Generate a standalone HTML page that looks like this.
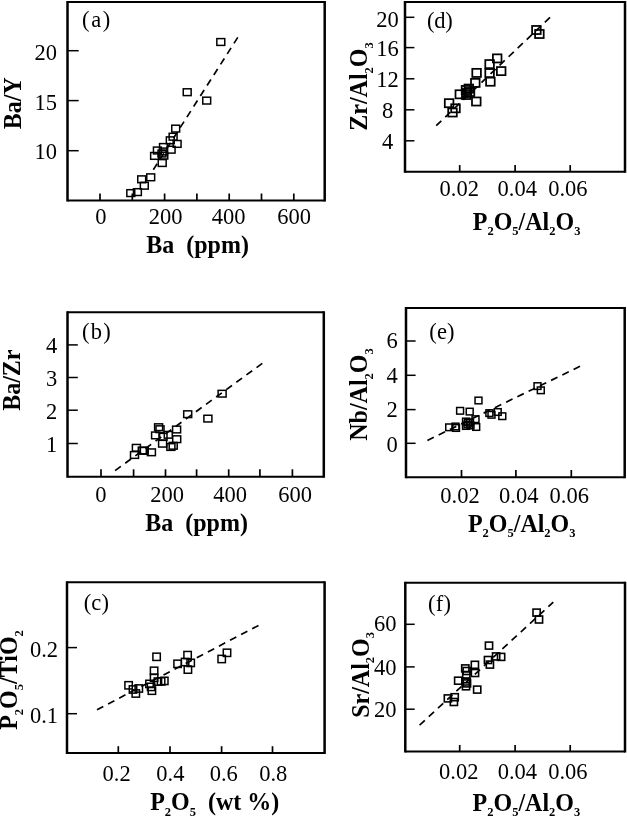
<!DOCTYPE html>
<html><head><meta charset="utf-8"><style>
html,body{margin:0;padding:0;background:#fff;}
svg{display:block;will-change:transform;}
text{font-family:"Liberation Serif",serif;fill:#000;}
.n{font-size:22.5px;}
.l{font-size:22.5px;}
.t{font-size:24px;font-weight:bold;}
</style></head><body>
<svg width="627" height="816" viewBox="0 0 627 816">
<path d="M67.5 2H324.7M67.5 200.5H324.7" stroke="#000" stroke-width="2.1" fill="none"/>
<path d="M67.5 0.95V201.55M324.7 0.95V201.55" stroke="#000" stroke-width="2.5" fill="none"/>
<line x1="67.5" y1="50.7" x2="78.7" y2="50.7" stroke="#000" stroke-width="1.5"/>
<text x="45.8" y="60.27" class="n" text-anchor="middle">20</text>
<line x1="67.5" y1="100.6" x2="78.7" y2="100.6" stroke="#000" stroke-width="1.5"/>
<text x="45.8" y="109.67" class="n" text-anchor="middle">15</text>
<line x1="67.5" y1="150.7" x2="78.7" y2="150.7" stroke="#000" stroke-width="1.5"/>
<text x="45.8" y="158.77" class="n" text-anchor="middle">10</text>
<line x1="100" y1="200.5" x2="100" y2="193.5" stroke="#000" stroke-width="1.7"/>
<text x="100.8" y="224.07" class="n" text-anchor="middle">0</text>
<line x1="132.3" y1="200.5" x2="132.3" y2="193.5" stroke="#000" stroke-width="1.7"/>
<line x1="164.6" y1="200.5" x2="164.6" y2="193.5" stroke="#000" stroke-width="1.7"/>
<text x="165.7" y="224.07" class="n" text-anchor="middle">200</text>
<line x1="196.9" y1="200.5" x2="196.9" y2="193.5" stroke="#000" stroke-width="1.7"/>
<line x1="229.2" y1="200.5" x2="229.2" y2="193.5" stroke="#000" stroke-width="1.7"/>
<text x="228.6" y="224.07" class="n" text-anchor="middle">400</text>
<line x1="261.5" y1="200.5" x2="261.5" y2="193.5" stroke="#000" stroke-width="1.7"/>
<line x1="293.8" y1="200.5" x2="293.8" y2="193.5" stroke="#000" stroke-width="1.7"/>
<text x="294" y="224.07" class="n" text-anchor="middle">600</text>
<text x="82.11" y="27.2" class="l" letter-spacing="1.6">(a)</text>
<line x1="153.3" y1="169.8" x2="238" y2="37" stroke="#000" stroke-width="1.7" stroke-dasharray="7.1 5.4"/>
<g fill="none" stroke="#000" stroke-width="1.5">
<rect x="126.85" y="189.7" width="7.9" height="6.8"/>
<rect x="133.45" y="188.7" width="7.9" height="6.8"/>
<rect x="140.35" y="182.3" width="7.9" height="6.8"/>
<rect x="137.75" y="175.9" width="7.9" height="6.8"/>
<rect x="146.75" y="173.9" width="7.9" height="6.8"/>
<rect x="158.25" y="159.6" width="7.9" height="6.8"/>
<rect x="150.65" y="152.5" width="7.9" height="6.8"/>
<rect x="159.85" y="152.2" width="7.9" height="6.8"/>
<rect x="153.45" y="147.1" width="7.9" height="6.8"/>
<rect x="159.55" y="143.6" width="7.9" height="6.8"/>
<rect x="159.55" y="148.1" width="7.9" height="6.8"/>
<rect x="158.05" y="150.1" width="7.9" height="6.8"/>
<rect x="167.15" y="146.3" width="7.9" height="6.8"/>
<rect x="173.15" y="140.5" width="7.9" height="6.8"/>
<rect x="166.35" y="136.9" width="7.9" height="6.8"/>
<rect x="169.15" y="133.3" width="7.9" height="6.8"/>
<rect x="171.75" y="125.2" width="7.9" height="6.8"/>
<rect x="183.25" y="88.8" width="7.9" height="6.8"/>
<rect x="202.75" y="97.2" width="7.9" height="6.8"/>
<rect x="216.85" y="38.6" width="7.9" height="6.8"/>
</g>
<text transform="translate(146.29 252.8) scale(1 1.06)" class="t">Ba&#160;&#160;(ppm)</text>
<text transform="translate(20.5 103.2) rotate(-90) scale(1 1.06)" text-anchor="middle" class="t">Ba/Y</text>
<path d="M67.5 312.3H323.8M67.5 476.8H323.8" stroke="#000" stroke-width="2.1" fill="none"/>
<path d="M67.5 311.25V477.85M323.8 311.25V477.85" stroke="#000" stroke-width="2.5" fill="none"/>
<line x1="67.5" y1="344.9" x2="77.8" y2="344.9" stroke="#000" stroke-width="1.5"/>
<text x="51.5" y="353.27" class="n" text-anchor="middle">4</text>
<line x1="67.5" y1="377.5" x2="77.8" y2="377.5" stroke="#000" stroke-width="1.5"/>
<text x="51.5" y="385.87" class="n" text-anchor="middle">3</text>
<line x1="67.5" y1="410.2" x2="77.8" y2="410.2" stroke="#000" stroke-width="1.5"/>
<text x="51.5" y="418.57" class="n" text-anchor="middle">2</text>
<line x1="67.5" y1="443.5" x2="77.8" y2="443.5" stroke="#000" stroke-width="1.5"/>
<text x="51.5" y="452.37" class="n" text-anchor="middle">1</text>
<line x1="101" y1="476.8" x2="101" y2="469.3" stroke="#000" stroke-width="1.7"/>
<text x="100.8" y="502.07" class="n" text-anchor="middle">0</text>
<line x1="133.6" y1="476.8" x2="133.6" y2="469.3" stroke="#000" stroke-width="1.7"/>
<line x1="165.5" y1="476.8" x2="165.5" y2="469.3" stroke="#000" stroke-width="1.7"/>
<text x="167.2" y="502.07" class="n" text-anchor="middle">200</text>
<line x1="196.6" y1="476.8" x2="196.6" y2="469.3" stroke="#000" stroke-width="1.7"/>
<line x1="228.7" y1="476.8" x2="228.7" y2="469.3" stroke="#000" stroke-width="1.7"/>
<text x="230" y="502.07" class="n" text-anchor="middle">400</text>
<line x1="259.9" y1="476.8" x2="259.9" y2="469.3" stroke="#000" stroke-width="1.7"/>
<line x1="292.4" y1="476.8" x2="292.4" y2="469.3" stroke="#000" stroke-width="1.7"/>
<text x="295" y="502.07" class="n" text-anchor="middle">600</text>
<text x="82.11" y="338.7" class="l" letter-spacing="1.25">(b)</text>
<line x1="115.1" y1="470.6" x2="263.1" y2="362.8" stroke="#000" stroke-width="1.7" stroke-dasharray="7.1 5.4"/>
<g fill="none" stroke="#000" stroke-width="1.5">
<rect x="132.4" y="444.45" width="8" height="6.7"/>
<rect x="130.5" y="451.65" width="8" height="6.7"/>
<rect x="138.3" y="447.15" width="8" height="6.7"/>
<rect x="140.2" y="447.45" width="8" height="6.7"/>
<rect x="147.4" y="448.95" width="8" height="6.7"/>
<rect x="151.6" y="432.05" width="8" height="6.7"/>
<rect x="154.6" y="423.85" width="8" height="6.7"/>
<rect x="156" y="425.85" width="8" height="6.7"/>
<rect x="159" y="433.35" width="8" height="6.7"/>
<rect x="164.3" y="431.45" width="8" height="6.7"/>
<rect x="172.6" y="426.15" width="8" height="6.7"/>
<rect x="172.7" y="435.85" width="8" height="6.7"/>
<rect x="158.6" y="440.35" width="8" height="6.7"/>
<rect x="166.9" y="443.65" width="8" height="6.7"/>
<rect x="169.2" y="442.45" width="8" height="6.7"/>
<rect x="183.7" y="410.85" width="8" height="6.7"/>
<rect x="203.9" y="415.25" width="8" height="6.7"/>
<rect x="218.1" y="390.35" width="8" height="6.7"/>
</g>
<text transform="translate(145.29 530.5) scale(1 1.06)" class="t">Ba&#160;&#160;(ppm)</text>
<text transform="translate(19.7 380.2) rotate(-90) scale(1 1.06)" text-anchor="middle" class="t">Ba/Zr</text>
<path d="M67 582.2H324.6M67 753H324.6" stroke="#000" stroke-width="2.1" fill="none"/>
<path d="M67 581.15V754.05M324.6 581.15V754.05" stroke="#000" stroke-width="2.5" fill="none"/>
<line x1="67" y1="647.6" x2="77" y2="647.6" stroke="#000" stroke-width="1.5"/>
<text x="44" y="656.87" class="n" text-anchor="middle">0.2</text>
<line x1="67" y1="713.7" x2="77" y2="713.7" stroke="#000" stroke-width="1.5"/>
<text x="44" y="723.47" class="n" text-anchor="middle">0.1</text>
<line x1="118.3" y1="753" x2="118.3" y2="746.2" stroke="#000" stroke-width="1.7"/>
<text x="116.6" y="781.37" class="n" text-anchor="middle">0.2</text>
<line x1="170" y1="753" x2="170" y2="746.2" stroke="#000" stroke-width="1.7"/>
<text x="170.4" y="781.37" class="n" text-anchor="middle">0.4</text>
<line x1="221.6" y1="753" x2="221.6" y2="746.2" stroke="#000" stroke-width="1.7"/>
<text x="223.7" y="781.37" class="n" text-anchor="middle">0.6</text>
<line x1="272.5" y1="753" x2="272.5" y2="746.2" stroke="#000" stroke-width="1.7"/>
<text x="273.3" y="781.37" class="n" text-anchor="middle">0.8</text>
<text x="83.71" y="609.5" class="l" letter-spacing="0.15">(c)</text>
<line x1="97" y1="709.7" x2="258.9" y2="625.3" stroke="#000" stroke-width="1.7" stroke-dasharray="7.1 5.4"/>
<g fill="none" stroke="#000" stroke-width="1.5">
<rect x="124.9" y="681.65" width="7.4" height="7.3"/>
<rect x="129.3" y="685.85" width="7.4" height="7.3"/>
<rect x="135.1" y="684.85" width="7.4" height="7.3"/>
<rect x="132.1" y="689.85" width="7.4" height="7.3"/>
<rect x="150.4" y="667.15" width="7.4" height="7.3"/>
<rect x="150.4" y="674.15" width="7.4" height="7.3"/>
<rect x="145.8" y="680.25" width="7.4" height="7.3"/>
<rect x="147.4" y="683.25" width="7.4" height="7.3"/>
<rect x="148.2" y="687.05" width="7.4" height="7.3"/>
<rect x="154.2" y="677.95" width="7.4" height="7.3"/>
<rect x="157.4" y="677.75" width="7.4" height="7.3"/>
<rect x="160.6" y="677.25" width="7.4" height="7.3"/>
<rect x="152.9" y="653.15" width="7.4" height="7.3"/>
<rect x="173.9" y="660.15" width="7.4" height="7.3"/>
<rect x="181.4" y="658.35" width="7.4" height="7.3"/>
<rect x="183.9" y="651.45" width="7.4" height="7.3"/>
<rect x="187" y="659.25" width="7.4" height="7.3"/>
<rect x="184.2" y="665.95" width="7.4" height="7.3"/>
<rect x="218" y="655.35" width="7.4" height="7.3"/>
<rect x="223.3" y="649.15" width="7.4" height="7.3"/>
</g>
<text transform="translate(150.19 810.3) scale(1 1.06)" class="t">P<tspan font-size="12.5" dy="5">2</tspan><tspan dy="-5">O</tspan><tspan font-size="12.5" dy="5">5</tspan><tspan dy="-5"> </tspan>&#160;(wt&#160;%)</text>
<text transform="translate(17.3 680) rotate(-90) scale(1 1.06)" text-anchor="middle" class="t">P<tspan font-size="12.5" dy="5">2</tspan><tspan dy="-5">O</tspan><tspan font-size="12.5" dy="5">5</tspan><tspan dy="-5">/</tspan>TiO<tspan font-size="12.5" dy="5">2</tspan></text>
<path d="M405 2H625M405 171.8H625" stroke="#000" stroke-width="2.1" fill="none"/>
<path d="M405 0.95V172.85M625 0.95V172.85" stroke="#000" stroke-width="2.5" fill="none"/>
<line x1="405" y1="17.3" x2="414.4" y2="17.3" stroke="#000" stroke-width="1.5"/>
<text x="387.6" y="26.67" class="n" text-anchor="middle">20</text>
<line x1="405" y1="47.6" x2="414.4" y2="47.6" stroke="#000" stroke-width="1.5"/>
<text x="387.6" y="55.97" class="n" text-anchor="middle">16</text>
<line x1="405" y1="78.8" x2="414.4" y2="78.8" stroke="#000" stroke-width="1.5"/>
<text x="387.6" y="87.17" class="n" text-anchor="middle">12</text>
<line x1="405" y1="109.8" x2="414.4" y2="109.8" stroke="#000" stroke-width="1.5"/>
<text x="387.6" y="118.17" class="n" text-anchor="middle">8</text>
<line x1="405" y1="140.8" x2="414.4" y2="140.8" stroke="#000" stroke-width="1.5"/>
<text x="387.6" y="149.17" class="n" text-anchor="middle">4</text>
<line x1="459.7" y1="171.8" x2="459.7" y2="165.1" stroke="#000" stroke-width="1.7"/>
<text x="459.2" y="196.17" class="n" text-anchor="middle">0.02</text>
<line x1="515.1" y1="171.8" x2="515.1" y2="165.1" stroke="#000" stroke-width="1.7"/>
<text x="517.2" y="196.17" class="n" text-anchor="middle">0.04</text>
<line x1="570.2" y1="171.8" x2="570.2" y2="165.1" stroke="#000" stroke-width="1.7"/>
<text x="567.9" y="196.17" class="n" text-anchor="middle">0.06</text>
<text x="427.01" y="27.6" class="l" letter-spacing="-0.2">(d)</text>
<line x1="436.2" y1="125.7" x2="550.6" y2="16.8" stroke="#000" stroke-width="1.7" stroke-dasharray="7.1 5.4"/>
<g fill="none" stroke="#000" stroke-width="1.75">
<rect x="444.8" y="99.15" width="8.6" height="8.1"/>
<rect x="451.2" y="104.25" width="8.6" height="8.1"/>
<rect x="448.2" y="108.45" width="8.6" height="8.1"/>
<rect x="455.5" y="90.25" width="8.6" height="8.1"/>
<rect x="461.7" y="85.95" width="8.6" height="8.1"/>
<rect x="464.5" y="84.55" width="8.6" height="8.1"/>
<rect x="462.7" y="88.95" width="8.6" height="8.1"/>
<rect x="465.7" y="87.95" width="8.6" height="8.1"/>
<rect x="462" y="90.95" width="8.6" height="8.1"/>
<rect x="471" y="78.85" width="8.6" height="8.1"/>
<rect x="472.3" y="68.85" width="8.6" height="8.1"/>
<rect x="472" y="97.45" width="8.6" height="8.1"/>
<rect x="486.1" y="77.65" width="8.6" height="8.1"/>
<rect x="485.3" y="69.05" width="8.6" height="8.1"/>
<rect x="485.3" y="60.05" width="8.6" height="8.1"/>
<rect x="492.9" y="54.35" width="8.6" height="8.1"/>
<rect x="496.9" y="67.05" width="8.6" height="8.1"/>
<rect x="532.1" y="25.95" width="8.6" height="8.1"/>
<rect x="535.1" y="29.95" width="8.6" height="8.1"/>
</g>
<text transform="translate(472.79 229.9) scale(1 1.06)" class="t">P<tspan font-size="12.5" dy="5">2</tspan><tspan dy="-5">O</tspan><tspan font-size="12.5" dy="5">5</tspan><tspan dy="-5">/</tspan>Al<tspan font-size="12.5" dy="5">2</tspan><tspan dy="-5">O</tspan><tspan font-size="12.5" dy="5">3</tspan></text>
<text transform="translate(367.4 86.5) rotate(-90) scale(1 1.06)" text-anchor="middle" class="t">Zr/Al<tspan font-size="12.5" dy="5">2</tspan><tspan dy="-5">O</tspan><tspan font-size="12.5" dy="5">3</tspan></text>
<path d="M406 308H624.7M406 477.2H624.7" stroke="#000" stroke-width="2.1" fill="none"/>
<path d="M406 306.95V478.25M624.7 306.95V478.25" stroke="#000" stroke-width="2.5" fill="none"/>
<line x1="406" y1="341" x2="415.6" y2="341" stroke="#000" stroke-width="1.5"/>
<text x="392" y="347.57" class="n" text-anchor="middle">6</text>
<line x1="406" y1="375.3" x2="415.6" y2="375.3" stroke="#000" stroke-width="1.5"/>
<text x="392" y="383.17" class="n" text-anchor="middle">4</text>
<line x1="406" y1="409.6" x2="415.6" y2="409.6" stroke="#000" stroke-width="1.5"/>
<text x="392" y="417.37" class="n" text-anchor="middle">2</text>
<line x1="406" y1="443.3" x2="415.6" y2="443.3" stroke="#000" stroke-width="1.5"/>
<text x="392" y="451.87" class="n" text-anchor="middle">0</text>
<line x1="461.5" y1="477.2" x2="461.5" y2="470" stroke="#000" stroke-width="1.7"/>
<text x="460" y="503.17" class="n" text-anchor="middle">0.02</text>
<line x1="515.9" y1="477.2" x2="515.9" y2="470" stroke="#000" stroke-width="1.7"/>
<text x="518.7" y="503.17" class="n" text-anchor="middle">0.04</text>
<line x1="571.3" y1="477.2" x2="571.3" y2="470" stroke="#000" stroke-width="1.7"/>
<text x="569.2" y="503.17" class="n" text-anchor="middle">0.06</text>
<text x="429.31" y="338.7" class="l" letter-spacing="0.15">(e)</text>
<line x1="427.4" y1="440.4" x2="580.7" y2="366" stroke="#000" stroke-width="1.7" stroke-dasharray="7.1 5.4"/>
<g fill="none" stroke="#000" stroke-width="1.5">
<rect x="445.75" y="424" width="6.9" height="6.6"/>
<rect x="452.05" y="423.2" width="6.9" height="6.6"/>
<rect x="452.55" y="424.7" width="6.9" height="6.6"/>
<rect x="456.65" y="407.5" width="6.9" height="6.6"/>
<rect x="466.25" y="408.3" width="6.9" height="6.6"/>
<rect x="462.55" y="418.2" width="6.9" height="6.6"/>
<rect x="464.05" y="421.2" width="6.9" height="6.6"/>
<rect x="462.55" y="422.7" width="6.9" height="6.6"/>
<rect x="466.55" y="419.2" width="6.9" height="6.6"/>
<rect x="464.55" y="419.2" width="6.9" height="6.6"/>
<rect x="467.05" y="422.2" width="6.9" height="6.6"/>
<rect x="472.75" y="423.7" width="6.9" height="6.6"/>
<rect x="472.05" y="415.9" width="6.9" height="6.6"/>
<rect x="475.05" y="397.2" width="6.9" height="6.6"/>
<rect x="485.95" y="409.8" width="6.9" height="6.6"/>
<rect x="488.05" y="411.5" width="6.9" height="6.6"/>
<rect x="494.25" y="408.7" width="6.9" height="6.6"/>
<rect x="498.85" y="412.9" width="6.9" height="6.6"/>
<rect x="534.05" y="382.8" width="6.9" height="6.6"/>
<rect x="537.35" y="387" width="6.9" height="6.6"/>
</g>
<text transform="translate(467.89 531.5) scale(1 1.06)" class="t">P<tspan font-size="12.5" dy="5">2</tspan><tspan dy="-5">O</tspan><tspan font-size="12.5" dy="5">5</tspan><tspan dy="-5">/</tspan>Al<tspan font-size="12.5" dy="5">2</tspan><tspan dy="-5">O</tspan><tspan font-size="12.5" dy="5">3</tspan></text>
<text transform="translate(367.4 394.5) rotate(-90) scale(1 1.06)" text-anchor="middle" class="t">Nb/Al<tspan font-size="12.5" dy="5">2</tspan><tspan dy="-5">O</tspan><tspan font-size="12.5" dy="5">3</tspan></text>
<path d="M405.3 582.8H625M405.3 751.5H625" stroke="#000" stroke-width="2.1" fill="none"/>
<path d="M405.3 581.75V752.55M625 581.75V752.55" stroke="#000" stroke-width="2.5" fill="none"/>
<line x1="405.3" y1="624.3" x2="414.7" y2="624.3" stroke="#000" stroke-width="1.5"/>
<text x="385.3" y="631.17" class="n" text-anchor="middle">60</text>
<line x1="405.3" y1="666.9" x2="414.7" y2="666.9" stroke="#000" stroke-width="1.5"/>
<text x="385.3" y="674.87" class="n" text-anchor="middle">40</text>
<line x1="405.3" y1="709.2" x2="414.7" y2="709.2" stroke="#000" stroke-width="1.5"/>
<text x="385.3" y="717.37" class="n" text-anchor="middle">20</text>
<line x1="459.7" y1="751.5" x2="459.7" y2="745" stroke="#000" stroke-width="1.7"/>
<text x="458.7" y="778.87" class="n" text-anchor="middle">0.02</text>
<line x1="515.1" y1="751.5" x2="515.1" y2="745" stroke="#000" stroke-width="1.7"/>
<text x="517.4" y="778.87" class="n" text-anchor="middle">0.04</text>
<line x1="570.2" y1="751.5" x2="570.2" y2="745" stroke="#000" stroke-width="1.7"/>
<text x="567.9" y="778.87" class="n" text-anchor="middle">0.06</text>
<text x="428.01" y="610.7" class="l" letter-spacing="0.3">(f)</text>
<line x1="419.6" y1="725.1" x2="553.3" y2="602.1" stroke="#000" stroke-width="1.7" stroke-dasharray="7.1 5.4"/>
<g fill="none" stroke="#000" stroke-width="1.6">
<rect x="444.3" y="694.9" width="7.2" height="7"/>
<rect x="451.1" y="693.7" width="7.2" height="7"/>
<rect x="450.3" y="698.5" width="7.2" height="7"/>
<rect x="454.6" y="677.2" width="7.2" height="7"/>
<rect x="461.7" y="664.9" width="7.2" height="7"/>
<rect x="463.1" y="667.5" width="7.2" height="7"/>
<rect x="462.7" y="671.5" width="7.2" height="7"/>
<rect x="462.1" y="678" width="7.2" height="7"/>
<rect x="463.4" y="679.9" width="7.2" height="7"/>
<rect x="462.4" y="682.8" width="7.2" height="7"/>
<rect x="471.3" y="661.3" width="7.2" height="7"/>
<rect x="471.4" y="669.5" width="7.2" height="7"/>
<rect x="473.6" y="686.1" width="7.2" height="7"/>
<rect x="485.4" y="642.1" width="7.2" height="7"/>
<rect x="492.5" y="652.9" width="7.2" height="7"/>
<rect x="497.5" y="653.4" width="7.2" height="7"/>
<rect x="484.4" y="656.5" width="7.2" height="7"/>
<rect x="486.3" y="661.1" width="7.2" height="7"/>
<rect x="533" y="609.1" width="7.2" height="7"/>
<rect x="535.4" y="616" width="7.2" height="7"/>
</g>
<text transform="translate(472.59 810.6) scale(1 1.06)" class="t">P<tspan font-size="12.5" dy="5">2</tspan><tspan dy="-5">O</tspan><tspan font-size="12.5" dy="5">5</tspan><tspan dy="-5">/</tspan>Al<tspan font-size="12.5" dy="5">2</tspan><tspan dy="-5">O</tspan><tspan font-size="12.5" dy="5">3</tspan></text>
<text transform="translate(368.8 674.9) rotate(-90) scale(1 1.06)" text-anchor="middle" class="t">Sr/Al<tspan font-size="12.5" dy="5">2</tspan><tspan dy="-5">O</tspan><tspan font-size="12.5" dy="5">3</tspan></text>
</svg>
</body></html>
